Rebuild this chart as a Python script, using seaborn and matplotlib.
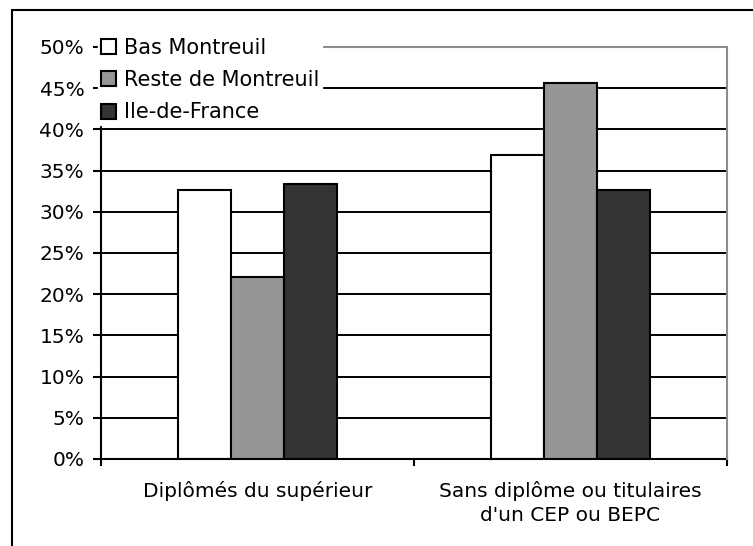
import matplotlib
matplotlib.use("Agg")
import matplotlib.pyplot as plt
import seaborn as sns
import pandas as pd
from matplotlib.ticker import PercentFormatter, FixedLocator
from matplotlib.lines import Line2D

categories = ["Diplômés du supérieur", "Sans diplôme ou titulaires\nd'un CEP ou BEPC"]
series_names = ["Bas Montreuil", "Reste de Montreuil", "Ile-de-France"]
bas_montreuil = [32.7, 36.9]
reste_montreuil = [22.1, 45.6]
ile_de_france = [33.4, 32.6]
y_ticks = [0, 5, 10, 15, 20, 25, 30, 35, 40, 45, 50]

rows = []
for name, vals in zip(series_names, [bas_montreuil, reste_montreuil, ile_de_france]):
    for c, v in zip(categories, vals):
        rows.append({"cat": c, "serie": name, "val": v})
df = pd.DataFrame(rows)

sns.set_theme(style="white")
plt.rcParams["font.family"] = ["DejaVu Sans"]
plt.rcParams["text.color"] = "black"

W, H = 753, 546
fig = plt.figure(figsize=(W / 100, H / 100), dpi=100)
ax = fig.add_axes([101 / W, 1 - 459 / H, (727 - 101) / W, (459 - 47) / H])

palette = {"Bas Montreuil": "#ffffff", "Reste de Montreuil": "#969696", "Ile-de-France": "#333333"}
sns.barplot(data=df, x="cat", y="val", hue="serie", hue_order=series_names,
            order=categories, palette=palette, width=0.51, gap=0,
            edgecolor="black", linewidth=1.5, saturation=1, ax=ax, legend=True)

ax.set_xlim(-0.5, 1.5)
ax.set_ylim(0, 50)
ax.set_xlabel("")
ax.set_ylabel("")
ax.set_axisbelow(True)
ax.yaxis.set_major_locator(FixedLocator(y_ticks))
ax.yaxis.set_major_formatter(PercentFormatter(xmax=100, decimals=0))
ax.yaxis.grid(True, color="black", linewidth=1.4)
ax.xaxis.grid(False)

ax.xaxis.set_major_locator(FixedLocator([-0.5, 0.5, 1.5]))
ax.xaxis.set_minor_locator(FixedLocator([0, 1]))
ax.set_xticklabels(["", "", ""])
ax.set_xticklabels(categories, minor=True, linespacing=1.3)
ax.tick_params(axis="x", which="major", direction="out", length=5, width=1.5, color="black", bottom=True)
ax.tick_params(axis="x", which="minor", length=0, pad=16, labelsize=14.5, colors="black")
ax.tick_params(axis="y", direction="out", length=6, width=1.5, color="black", left=True, pad=6, labelsize=14.5, labelcolor="black")

for s in ["left", "bottom"]:
    ax.spines[s].set_color("black")
    ax.spines[s].set_linewidth(1.5)
for s in ["top", "right"]:
    ax.spines[s].set_color("#8c8c8c")
    ax.spines[s].set_linewidth(1.5)
    ax.spines[s].set_zorder(3)

handles, labels = ax.get_legend_handles_labels()
ax.get_legend().remove()
leg = fig.legend(handles, labels, loc="upper left",
                 bbox_to_anchor=(98 / W, 1 - 35 / H), bbox_transform=fig.transFigure,
                 frameon=True, fancybox=False, facecolor="white", edgecolor="white",
                 framealpha=1, fontsize=15, handlelength=0.72, handleheight=0.72,
                 handletextpad=0.4, labelspacing=0.6, borderpad=0.12, borderaxespad=0,
                 labelcolor="black")
leg.set_zorder(10)

fig.add_artist(Line2D([12 / W, 12 / W], [0, 1 - 10 / H], color="black", linewidth=1.5, transform=fig.transFigure))
fig.add_artist(Line2D([12 / W, 1], [1 - 10 / H, 1 - 10 / H], color="black", linewidth=1.5, transform=fig.transFigure))

fig.savefig("out.png", dpi=100, facecolor="white")
